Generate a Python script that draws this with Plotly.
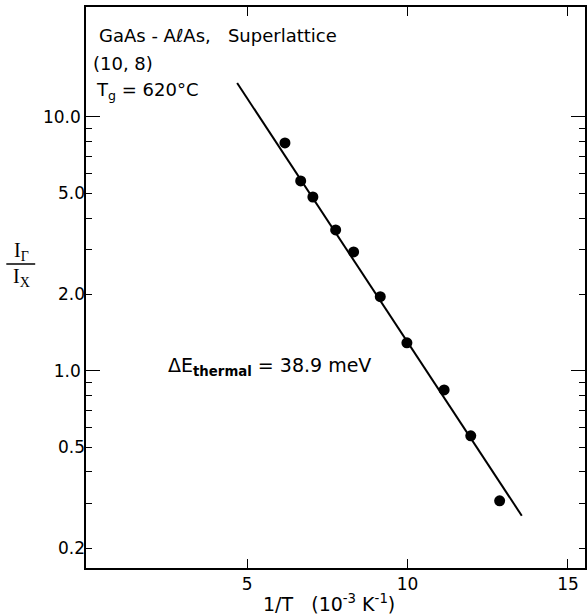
import plotly.graph_objects as go

# Data
inv_T = [6.18, 6.67, 7.05, 7.76, 8.32, 9.15, 9.98, 11.14, 11.97, 12.87]
ratio = [7.90, 5.60, 4.84, 3.59, 2.94, 1.96, 1.29, 0.842, 0.555, 0.308]
fit_x = [4.69, 13.56]
fit_y = [13.6, 0.269]

x_ticks = [5, 10, 15]
y_major = [1, 10]
y_major_text = ["1.0", "10.0"]
y_label_vals = [0.2, 0.5, 2, 5]
y_label_text = ["0.2", "0.5", "2.0", "5.0"]
y_minor = [0.2, 0.3, 0.4, 0.5, 0.6, 0.7, 0.8, 0.9, 2, 3, 4, 5, 6, 7, 8, 9]

W, H = 587, 616
L, R, T, B = 86, 0, 7, 48
PW, PH = W - L - R, H - T - B


def px(x):
    return (x - L) / PW


def py(y):
    return (H - B - y) / PH


FONT = "DejaVu Sans"
yr = [-0.776, 1.433]

fig = go.Figure()
fig.add_trace(go.Scatter(x=fit_x, y=fit_y, mode="lines",
                         line=dict(color="black", width=2), yaxis="y2",
                         showlegend=False))
fig.add_trace(go.Scatter(x=inv_T, y=ratio, mode="markers",
                         marker=dict(color="black", size=11), showlegend=False))

fig.update_layout(
    width=W, height=H,
    margin=dict(l=L, r=R, t=T, b=B),
    paper_bgcolor="white", plot_bgcolor="white",
    font=dict(family=FONT, size=17, color="black"),
    xaxis=dict(range=[-0.02, 15.53], tickvals=x_ticks, ticktext=[str(v) for v in x_ticks],
               ticks="inside", ticklen=9, tickwidth=1.3, tickcolor="black",
               showline=True, linecolor="black", linewidth=1.5, mirror="ticks",
               showgrid=False, zeroline=False, tickfont=dict(size=17)),
    yaxis=dict(type="log", range=yr, tickvals=y_major, ticktext=y_major_text,
               ticks="inside", ticklen=14, tickwidth=1.3, tickcolor="black",
               showline=True, linecolor="black", linewidth=1.5, mirror="ticks",
               showgrid=False, zeroline=False, tickfont=dict(size=17),
               minor=dict(tickmode="array", tickvals=y_minor, ticks="inside",
                          ticklen=6, tickwidth=1.2, tickcolor="black", showgrid=False)),
    yaxis2=dict(type="log", range=yr, overlaying="y", anchor="x", side="left",
                tickvals=y_label_vals, ticktext=y_label_text, ticks="inside",
                ticklen=6, tickwidth=1.2, tickcolor="black",
                showline=False, showgrid=False, zeroline=False,
                tickfont=dict(size=17)),
)

ann = [
    dict(text="GaAs - A\u2113As,   Superlattice", x=px(97), y=py(35), xanchor="left", yanchor="middle", size=18),
    dict(text="(10, 8)", x=px(91), y=py(63), xanchor="left", yanchor="middle", size=18),
    dict(text="T<sub>g</sub> = 620\u00b0C", x=px(94), y=py(91), xanchor="left", yanchor="middle", size=18),
    dict(text="\u0394E<sub><b>thermal</b></sub> = 38.9 meV", x=px(166), y=py(366), xanchor="left", yanchor="middle", size=19),
    dict(text="1/T   (10<sup>-3</sup> K<sup>-1</sup>)", x=px(330), y=py(603), xanchor="center", yanchor="middle", size=19),
]
for a in ann:
    fig.add_annotation(text=a["text"], x=a["x"], y=a["y"], xref="paper", yref="paper",
                       xanchor=a["xanchor"], yanchor=a["yanchor"], showarrow=False,
                       font=dict(family=FONT, size=a["size"], color="black"))

# y-axis title as a fraction I_Γ / I_X
fig.add_annotation(text="I<sub>\u0393</sub>", x=px(21), y=py(251), xref="paper", yref="paper",
                   xanchor="center", yanchor="middle", showarrow=False,
                   font=dict(family="Liberation Serif", size=20, color="black"))
fig.add_annotation(text="I<sub>X</sub>", x=px(21), y=py(277), xref="paper", yref="paper",
                   xanchor="center", yanchor="middle", showarrow=False,
                   font=dict(family="Liberation Serif", size=20, color="black"))
fig.add_shape(type="line", xref="paper", yref="paper", x0=px(6), x1=px(35),
              y0=py(264), y1=py(264), line=dict(color="black", width=1.5))

fig.write_html("out.html")
